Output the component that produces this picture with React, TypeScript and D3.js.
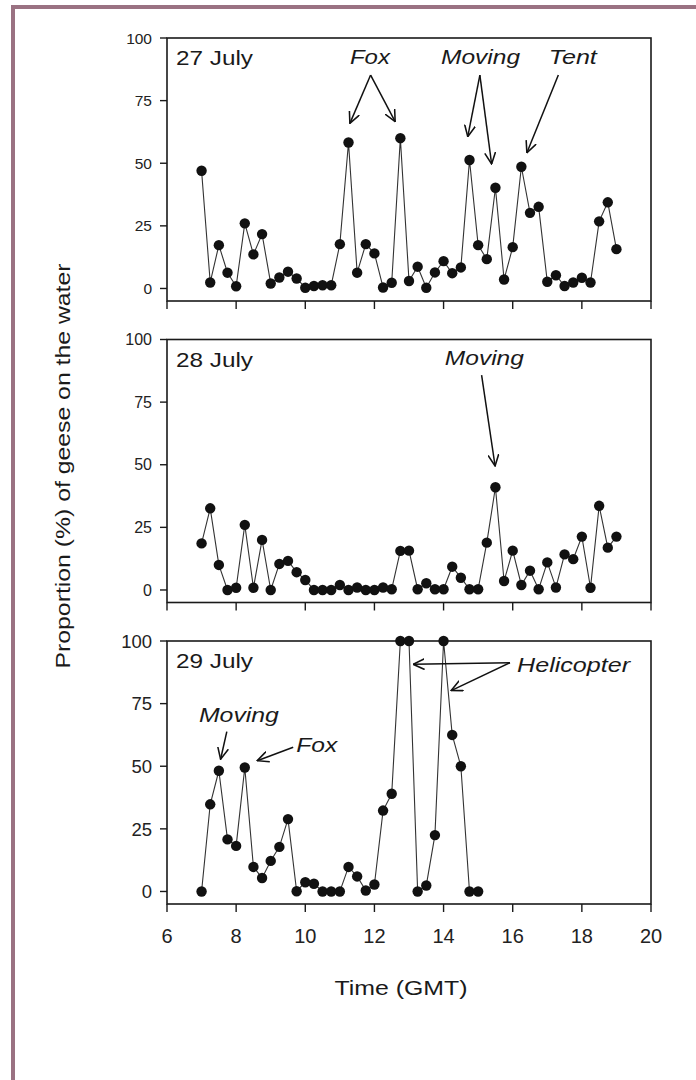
import React, { useEffect, useRef } from 'react';
import * as d3 from 'd3';

// proportion (%) of geese on the water, one count every 15 min from 07:00 GMT
const days = ["27 July", "28 July", "29 July"];
const july27 = [47, 2.4, 17.3, 6.3, 0.9, 26, 13.6, 21.7, 2, 4.4, 6.7, 4, 0.3, 1, 1.3, 1.3, 17.7, 58.3, 6.3, 17.7, 14, 0.4, 2.3, 60, 3, 8.7, 0.3, 6.4, 10.9, 6.1, 8.4, 51.3, 17.3, 11.7, 40.2, 3.6, 16.5, 48.6, 30.2, 32.6, 2.7, 5.3, 1, 2.4, 4.3, 2.4, 26.8, 34.4, 15.7];
const july28 = [18.6, 32.6, 10, 0, 0.9, 26, 0.9, 20, 0, 10.4, 11.6, 7.1, 4, 0, 0, 0, 2, 0, 1, 0, 0, 1, 0.3, 15.6, 15.7, 0.3, 2.7, 0.3, 0.3, 9.3, 4.9, 0.3, 0.3, 18.9, 41, 3.6, 15.7, 2, 7.7, 0.3, 11, 1, 14.2, 12.3, 21.3, 0.9, 33.6, 16.9, 21.3];
const july29 = [0, 34.8, 48.2, 20.8, 18.2, 49.5, 9.8, 5.4, 12.2, 17.8, 28.9, 0.1, 3.7, 3.1, 0, 0, 0, 9.8, 6, 0.4, 2.8, 32.3, 39, 100, 100, 0, 2.4, 22.5, 100, 62.5, 50, 0, 0];
const series = [july27, july28, july29];
const firstCount = 7;     // GMT hour
const countStep = 0.25;   // hours between counts

const yTicks = [0, 25, 50, 75, 100];
const xTicks = [6, 8, 10, 12, 14, 16, 18, 20];

// event notes in data units (hour, %); width is the printed text width
const notes27 = [
  { text: "Fox", x: 11.87, y: 89.6, width: 40, arrows: [[11.89, 85.2, 11.29, 65.9], [11.89, 85.2, 12.6, 66.6]] },
  { text: "Moving", x: 15.07, y: 89.6, width: 79, arrows: [[15.05, 85.2, 14.7, 60.6], [15.05, 85.2, 15.39, 49.7]] },
  { text: "Tent", x: 17.74, y: 89.6, width: 48, arrows: [[17.32, 85.2, 16.41, 54.2]] },
];
const notes28 = [
  { text: "Moving", x: 15.18, y: 89.8, width: 79, arrows: [[15.1, 85.8, 15.49, 49.5]] },
];
const notes29 = [
  { text: "Helicopter", x: 17.76, y: 87.7, width: 113, arrows: [[15.92, 91.3, 13.12, 90.7], [15.92, 91.3, 14.22, 80.2]] },
  { text: "Moving", x: 8.08, y: 67.8, width: 80, arrows: [[7.73, 63.8, 7.55, 52.8]] },
  { text: "Fox", x: 10.33, y: 55.8, width: 41, arrows: [[9.65, 57.6, 8.61, 52.2]] },
];
const notes = [notes27, notes28, notes29];

const W = 696;
const H = 1080;
const FONT = "'Liberation Sans', Arial, Helvetica, sans-serif";

export default function App() {
  const ref = useRef<SVGSVGElement>(null);

  useEffect(() => {
    const svg = d3.select(ref.current);
    svg.selectAll("*").remove();

    const left = 167, right = 651;
    const panelH = 263, gap = 301.5, firstTop = 38;
    const tickFont = [15.5, 16, 18.5];

    const x = d3.scaleLinear().domain([6, 20]).range([left, right]);

    svg.append("rect").attr("width", W).attr("height", H).attr("fill", "white");

    // page border from the scan
    svg.append("rect").attr("x", 11).attr("y", 5).attr("width", W - 11).attr("height", 4).attr("fill", "#9a7282");
    svg.append("rect").attr("x", 11).attr("y", 5).attr("width", 4).attr("height", H - 5).attr("fill", "#9a7282");

    svg.append("defs").append("marker")
      .attr("id", "head")
      .attr("viewBox", "0 0 10 10")
      .attr("refX", 9.5)
      .attr("refY", 5)
      .attr("markerWidth", 12)
      .attr("markerHeight", 12)
      .attr("markerUnits", "userSpaceOnUse")
      .attr("orient", "auto")
      .append("path")
      .attr("d", "M0,0.5 L9.5,5 L0,9.5")
      .attr("fill", "none")
      .attr("stroke", "#111")
      .attr("stroke-width", 1.3);

    series.forEach((values, i) => {
      const top = firstTop + i * gap;
      const y = d3.scaleLinear().domain([-5, 100]).range([top + panelH, top]);
      const g = svg.append("g");

      g.append("rect")
        .attr("x", left).attr("y", top)
        .attr("width", right - left).attr("height", panelH)
        .attr("fill", "none").attr("stroke", "#1a1a1a").attr("stroke-width", 1.6);

      // y ticks
      g.selectAll(".yt").data(yTicks).enter().append("line")
        .attr("x1", left - 7).attr("x2", left)
        .attr("y1", (d) => y(d)).attr("y2", (d) => y(d))
        .attr("stroke", "#1a1a1a").attr("stroke-width", 1.4);
      g.selectAll(".yl").data(yTicks).enter().append("text")
        .attr("x", left - 15).attr("y", (d) => y(d))
        .attr("dy", "0.36em")
        .attr("text-anchor", "end")
        .attr("font-family", FONT).attr("font-size", tickFont[i]).attr("fill", "#222")
        .text((d) => d);

      // x ticks
      g.selectAll(".xt").data(xTicks).enter().append("line")
        .attr("x1", (d) => x(d)).attr("x2", (d) => x(d))
        .attr("y1", top + panelH).attr("y2", top + panelH + 8)
        .attr("stroke", "#1a1a1a").attr("stroke-width", 1.4);

      if (i === series.length - 1) {
        g.selectAll(".xl").data(xTicks).enter().append("text")
          .attr("x", (d) => x(d)).attr("y", top + panelH + 39)
          .attr("text-anchor", "middle")
          .attr("font-family", FONT).attr("font-size", 20).attr("fill", "#222")
          .text((d) => d);
      }

      const pts = values.map((v, k) => [firstCount + k * countStep, v] as [number, number]);

      g.append("path")
        .attr("d", d3.line().x((d) => x(d[0])).y((d) => y(d[1]))(pts))
        .attr("fill", "none").attr("stroke", "#333").attr("stroke-width", 1.1);

      g.selectAll("circle").data(pts).enter().append("circle")
        .attr("cx", (d) => x(d[0])).attr("cy", (d) => y(d[1]))
        .attr("r", 5.2).attr("fill", "#111");

      g.append("text")
        .attr("x", left + 9).attr("y", top + 27)
        .attr("font-family", FONT).attr("font-size", 21).attr("fill", "#1a1a1a")
        .attr("textLength", 77).attr("lengthAdjust", "spacingAndGlyphs")
        .text(days[i]);

      notes[i].forEach((n) => {
        g.append("text")
          .attr("x", x(n.x)).attr("y", y(n.y))
          .attr("text-anchor", "middle")
          .attr("font-family", FONT).attr("font-size", 21).attr("font-style", "italic")
          .attr("fill", "#1a1a1a")
          .attr("textLength", n.width).attr("lengthAdjust", "spacingAndGlyphs")
          .text(n.text);
        n.arrows.forEach((a) => {
          g.append("line")
            .attr("x1", x(a[0])).attr("y1", y(a[1]))
            .attr("x2", x(a[2])).attr("y2", y(a[3]))
            .attr("stroke", "#111").attr("stroke-width", 1.5)
            .attr("marker-end", "url(#head)");
        });
      });
    });

    svg.append("text")
      .attr("x", (left + right) / 2 - 8).attr("y", 995)
      .attr("text-anchor", "middle")
      .attr("font-family", FONT).attr("font-size", 20).attr("fill", "#1a1a1a")
      .attr("textLength", 133).attr("lengthAdjust", "spacingAndGlyphs")
      .text("Time (GMT)");

    svg.append("text")
      .attr("transform", "translate(70,466) rotate(-90)")
      .attr("text-anchor", "middle")
      .attr("font-family", FONT).attr("font-size", 21).attr("fill", "#1a1a1a")
      .attr("textLength", 405).attr("lengthAdjust", "spacingAndGlyphs")
      .text("Proportion (%) of geese on the water");
  }, []);

  return (
    <svg ref={ref} width={W} height={H}
      style={{ position: "absolute", left: 0, top: 0, display: "block" }} />
  );
}
